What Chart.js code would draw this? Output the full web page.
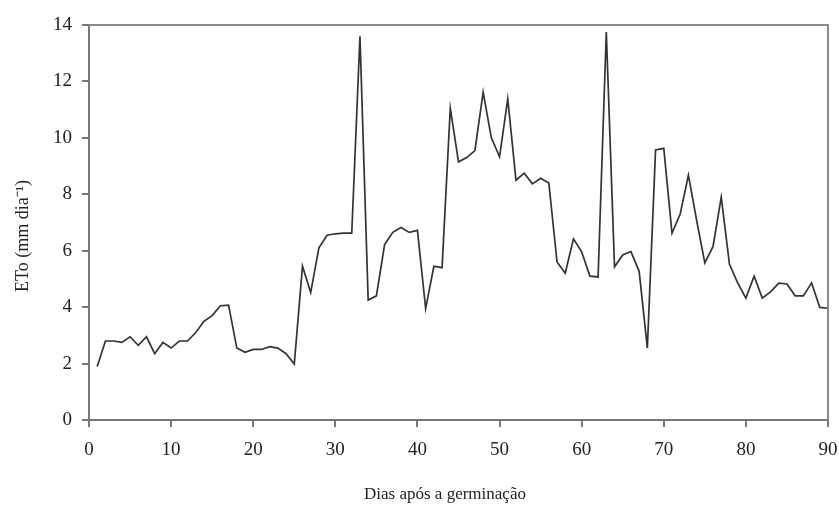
<!DOCTYPE html>
<html>
<head>
<meta charset="utf-8">
<script src="https://cdn.jsdelivr.net/npm/chart.js@4/dist/chart.umd.min.js"></script>
<style>
html,body{margin:0;padding:0;background:#fff;}
#wrap{width:839px;height:505px;position:relative;}
</style>
</head>
<body>
<div id="wrap"><canvas id="c" width="839" height="505"></canvas></div>
<script>
const days = [];
for (let d = 1; d <= 90; d++) days.push(d);
const eto = [
  1.9, 2.8, 2.8, 2.75, 2.95, 2.65, 2.95, 2.35, 2.75, 2.55,
  2.8, 2.8, 3.1, 3.5, 3.7, 4.05, 4.07, 2.55, 2.4, 2.5,
  2.5, 2.6, 2.55, 2.35, 1.98, 5.45, 4.52, 6.1, 6.55, 6.6,
  6.62, 6.62, 13.6, 4.25, 4.4, 6.22, 6.65, 6.82, 6.65, 6.72,
  3.95, 5.45, 5.4, 11.05, 9.15, 9.3, 9.55, 11.62, 10.0, 9.33,
  11.38, 8.5, 8.75, 8.37, 8.57, 8.4, 5.6, 5.2, 6.42, 5.96,
  5.1, 5.07, 13.75, 5.43, 5.85, 5.97, 5.27, 2.55, 9.57, 9.63,
  6.62, 7.3, 8.68, 7.08, 5.57, 6.15, 7.9, 5.52, 4.86, 4.32,
  5.1, 4.32, 4.54, 4.85, 4.82, 4.4, 4.4, 4.86, 3.99, 3.96
];
const xTicks = [0,10,20,30,40,50,60,70,80,90];
const yTicks = [0,2,4,6,8,10,12,14];
const xTitle = 'Dias após a germinação';
const yTitle = 'ETo (mm dia⁻¹)';

const points = days.map((d, i) => ({x: d, y: eto[i]}));

const serif = "'Liberation Serif', 'Times New Roman', serif";

const framePlugin = {
  id: 'frame',
  afterDraw(chart) {
    const {ctx, chartArea: a} = chart;
    ctx.save();
    ctx.strokeStyle = '#8a8a8a';
    ctx.lineWidth = 2;
    ctx.beginPath();
    ctx.moveTo(a.left, a.top);
    ctx.lineTo(a.right, a.top);
    ctx.lineTo(a.right, a.bottom);
    ctx.stroke();
    // axis titles
    ctx.fillStyle = '#222';
    ctx.textAlign = 'center';
    ctx.textBaseline = 'alphabetic';
    ctx.font = '17px ' + serif;
    ctx.fillText(xTitle, 445, 499);
    ctx.translate(28, 236);
    ctx.rotate(-Math.PI / 2);
    ctx.font = '18px ' + serif;
    ctx.fillText(yTitle, 0, 0);
    ctx.restore();
  }
};

new Chart(document.getElementById('c'), {
  type: 'line',
  data: {
    datasets: [{
      data: points,
      borderColor: '#333333',
      borderWidth: 1.7,
      pointRadius: 0,
      tension: 0,
      fill: false
    }]
  },
  options: {
    responsive: false,
    animation: false,
    devicePixelRatio: 1,
    layout: {padding: {left: 0, right: 11, top: 25, bottom: 0}},
    plugins: {legend: {display: false}, tooltip: {enabled: false}},
    scales: {
      x: {
        type: 'linear',
        min: 0, max: 90,
        afterBuildTicks(scale) { scale.ticks = xTicks.map(v => ({value: v})); },
        afterFit(scale) { scale.height = 85; scale.paddingRight = 0; scale.paddingLeft = 0; },
        ticks: {color: '#222', font: {family: serif, size: 19}, padding: 12, maxRotation: 0},
        grid: {drawOnChartArea: false, drawTicks: true, tickLength: 7, color: '#777', lineWidth: 2},
        border: {display: true, color: '#777', width: 2},
        title: {display: false}
      },
      y: {
        min: 0, max: 14,
        afterBuildTicks(scale) { scale.ticks = yTicks.map(v => ({value: v})); },
        afterFit(scale) { scale.width = 89; },
        ticks: {color: '#222', font: {family: serif, size: 19}, padding: 10},
        grid: {drawOnChartArea: false, drawTicks: true, tickLength: 7, color: '#777', lineWidth: 2},
        border: {display: true, color: '#777', width: 2},
        title: {display: false}
      }
    }
  },
  plugins: [framePlugin]
});
</script>
</body>
</html>
